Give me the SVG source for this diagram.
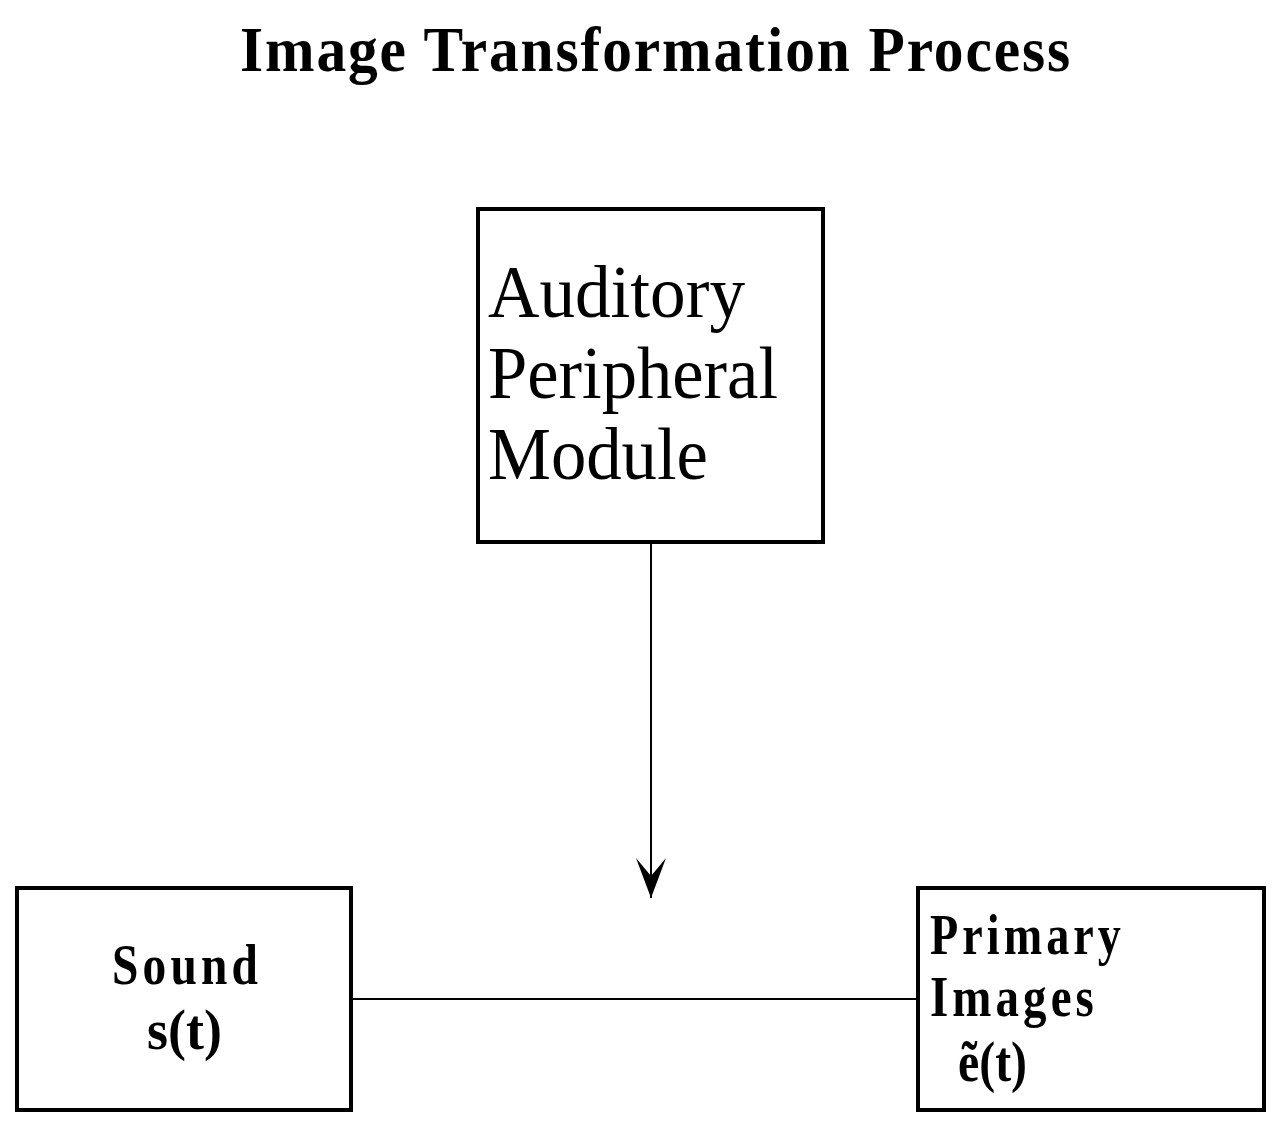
<svg xmlns="http://www.w3.org/2000/svg" width="1281" height="1128" viewBox="0 0 1281 1128">
<style>
.box{fill:#fff;stroke:#000;stroke-width:4}
.t{font-family:"Liberation Serif","Times New Roman",serif;fill:#000}
.b{font-weight:bold;font-size:57px;letter-spacing:5px}
.m{letter-spacing:0}
.r{font-size:75px}
.c{stroke:#000;stroke-width:2;fill:none}
</style>
<defs>
<marker id="ah" markerUnits="userSpaceOnUse" viewBox="0 0 40 30" refX="40" refY="15" markerWidth="40" markerHeight="30" orient="auto">
<path d="M0,0 L40,15 L0,30 L18,15 Z" fill="#000"/>
</marker>
</defs>
<rect width="1281" height="1128" fill="#fff"/>
<text class="t" x="240" y="71" font-size="63" font-weight="bold" letter-spacing="2" textLength="832" lengthAdjust="spacingAndGlyphs">Image Transformation Process</text>
<g id="connectors">
<line class="c" x1="651" y1="543" x2="651" y2="898" marker-end="url(#ah)"/>
<line class="c" x1="351" y1="999" x2="918" y2="999"/>
</g>
<g id="auditory">
<rect class="box" x="478" y="209" width="345" height="333"/>
<text class="t r" x="488" y="317" textLength="257" lengthAdjust="spacingAndGlyphs">Auditory</text>
<text class="t r" x="488" y="398" textLength="290" lengthAdjust="spacingAndGlyphs">Peripheral</text>
<text class="t r" x="488" y="479" textLength="220" lengthAdjust="spacingAndGlyphs">Module</text>
</g>
<g id="sound">
<rect class="box" x="17" y="888" width="334" height="222"/>
<text class="t b" x="112" y="984" textLength="150" lengthAdjust="spacingAndGlyphs">Sound</text>
<text class="t b m" x="147" y="1049" textLength="75" lengthAdjust="spacingAndGlyphs">s(t)</text>
</g>
<g id="primary">
<rect class="box" x="918" y="888" width="346" height="222"/>
<text class="t b" x="930" y="954" textLength="195" lengthAdjust="spacingAndGlyphs">Primary</text>
<text class="t b" x="930" y="1016" textLength="168" lengthAdjust="spacingAndGlyphs">Images</text>
<text class="t b m" x="958" y="1081" textLength="69" lengthAdjust="spacingAndGlyphs">ẽ(t)</text>
</g>
</svg>
